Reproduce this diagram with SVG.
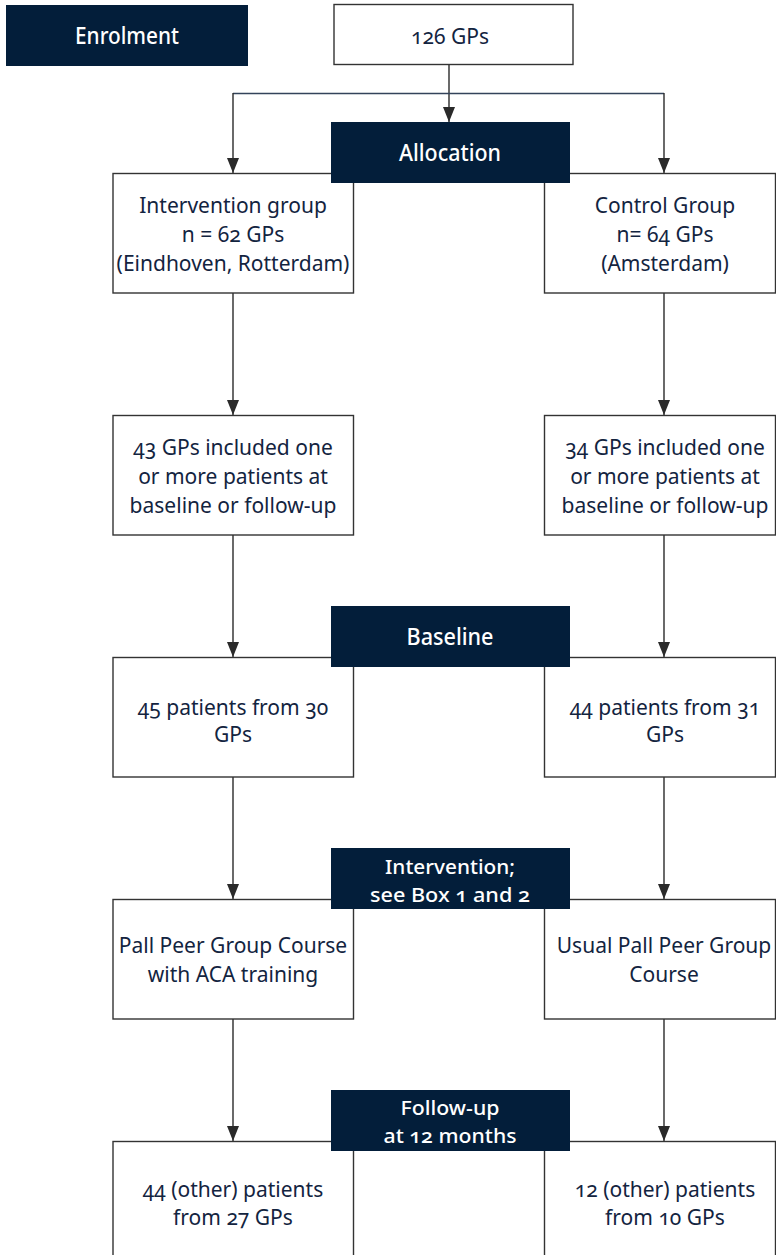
<svg xmlns="http://www.w3.org/2000/svg" width="776" height="1255" viewBox="0 0 776 1255">
<defs>
<style>
.box{fill:#ffffff;stroke:#333333;stroke-width:1.4}
.hdr{fill:#031e3a}
.t{font-family:"Noto Sans","Open Sans","Liberation Sans",sans-serif;font-size:21px;fill:#13243f;text-anchor:middle;font-variant-numeric:oldstyle-nums;font-feature-settings:"onum" 1}
.h{font-family:"Noto Sans","Open Sans","Liberation Sans",sans-serif;font-size:23px;font-weight:500;fill:#ffffff;text-anchor:middle;font-variant-numeric:oldstyle-nums;font-feature-settings:"onum" 1}
.h2{font-size:20.5px}
.c{fill:none;stroke:#2a2a2a;stroke-width:1.4}
</style>
<marker id="arr" viewBox="0 0 15 12" refX="15" refY="6" markerWidth="15" markerHeight="12" markerUnits="userSpaceOnUse" orient="auto">
<path d="M0,0 L15,6 L0,12 Z" fill="#2a2a2a"/>
</marker>
</defs>

<g id="enrolment">
<rect class="hdr" x="6" y="5" width="242" height="61"/>
<text class="h" x="127" y="44" textLength="104" lengthAdjust="spacingAndGlyphs">Enrolment</text>
</g>

<g id="gps126">
<rect class="box" x="334" y="4.5" width="239" height="60"/>
<text class="t" x="450" y="44">126 GPs</text>
</g>

<g id="connectors">
<line class="c" x1="449" y1="65" x2="449" y2="122" marker-end="url(#arr)"/>
<polyline class="c" style="stroke:#33435a" points="233,93.5 664,93.5"/>
<line class="c" x1="233" y1="93" x2="233" y2="173" marker-end="url(#arr)"/>
<line class="c" x1="664" y1="93" x2="664" y2="173" marker-end="url(#arr)"/>
<line class="c" x1="233" y1="293" x2="233" y2="415" marker-end="url(#arr)"/>
<line class="c" x1="664" y1="293" x2="664" y2="415" marker-end="url(#arr)"/>
<line class="c" x1="233" y1="535" x2="233" y2="657" marker-end="url(#arr)"/>
<line class="c" x1="664" y1="535" x2="664" y2="657" marker-end="url(#arr)"/>
<line class="c" x1="233" y1="777" x2="233" y2="899" marker-end="url(#arr)"/>
<line class="c" x1="664" y1="777" x2="664" y2="899" marker-end="url(#arr)"/>
<line class="c" x1="233" y1="1019" x2="233" y2="1141" marker-end="url(#arr)"/>
<line class="c" x1="664" y1="1019" x2="664" y2="1141" marker-end="url(#arr)"/>
</g>

<g id="intervention-group">
<rect class="box" x="113" y="173.5" width="240.5" height="119.5"/>
<text class="t" x="233" y="213">Intervention group</text>
<text class="t" x="233" y="242">n = 62 GPs</text>
<text class="t" x="233" y="271">(Eindhoven, Rotterdam)</text>
</g>

<g id="control-group">
<rect class="box" x="544.5" y="173.5" width="231" height="119.5"/>
<text class="t" x="665" y="213">Control Group</text>
<text class="t" x="665" y="242">n= 64 GPs</text>
<text class="t" x="665" y="271">(Amsterdam)</text>
</g>

<g id="allocation">
<rect class="hdr" x="331" y="122" width="239" height="61"/>
<text class="h" x="450" y="161" textLength="102" lengthAdjust="spacingAndGlyphs">Allocation</text>
</g>

<g id="included-left">
<rect class="box" x="113" y="415.5" width="240.5" height="119.5"/>
<text class="t" x="233" y="455">43 GPs included one</text>
<text class="t" x="233" y="484">or more patients at</text>
<text class="t" x="233" y="513">baseline or follow-up</text>
</g>

<g id="included-right">
<rect class="box" x="544.5" y="415.5" width="231" height="119.5"/>
<text class="t" x="665" y="455">34 GPs included one</text>
<text class="t" x="665" y="484">or more patients at</text>
<text class="t" x="665" y="513">baseline or follow-up</text>
</g>

<g id="baseline-left">
<rect class="box" x="113" y="657.5" width="240.5" height="119.5"/>
<text class="t" x="233" y="715">45 patients from 30</text>
<text class="t" x="233" y="742">GPs</text>
</g>

<g id="baseline-right">
<rect class="box" x="544.5" y="657.5" width="231" height="119.5"/>
<text class="t" x="665" y="715">44 patients from 31</text>
<text class="t" x="665" y="742">GPs</text>
</g>

<g id="baseline">
<rect class="hdr" x="331" y="606" width="239" height="61"/>
<text class="h" x="450" y="645" textLength="87" lengthAdjust="spacingAndGlyphs">Baseline</text>
</g>

<g id="course-left">
<rect class="box" x="113" y="899.5" width="240.5" height="119.5"/>
<text class="t" x="233" y="953">Pall Peer Group Course</text>
<text class="t" x="233" y="982">with ACA training</text>
</g>

<g id="course-right">
<rect class="box" x="544.5" y="899.5" width="231" height="119.5"/>
<text class="t" x="664" y="953">Usual Pall Peer Group</text>
<text class="t" x="664" y="982">Course</text>
</g>

<g id="intervention">
<rect class="hdr" x="331" y="848" width="239" height="61"/>
<text class="h h2" x="450" y="874" textLength="130" lengthAdjust="spacingAndGlyphs">Intervention;</text>
<text class="h h2" x="450" y="902" textLength="160" lengthAdjust="spacingAndGlyphs">see Box 1 and 2</text>
</g>

<g id="followup-left">
<rect class="box" x="113" y="1141.5" width="240.5" height="120"/>
<text class="t" x="233" y="1197">44 (other) patients</text>
<text class="t" x="233" y="1225">from 27 GPs</text>
</g>

<g id="followup-right">
<rect class="box" x="544.5" y="1141.5" width="231" height="120"/>
<text class="t" x="665" y="1197">12 (other) patients</text>
<text class="t" x="665" y="1225">from 10 GPs</text>
</g>

<g id="followup">
<rect class="hdr" x="331" y="1090" width="239" height="61"/>
<text class="h h2" x="450" y="1115" textLength="99" lengthAdjust="spacingAndGlyphs">Follow-up</text>
<text class="h h2" x="450" y="1143" textLength="133" lengthAdjust="spacingAndGlyphs">at 12 months</text>
</g>
</svg>
